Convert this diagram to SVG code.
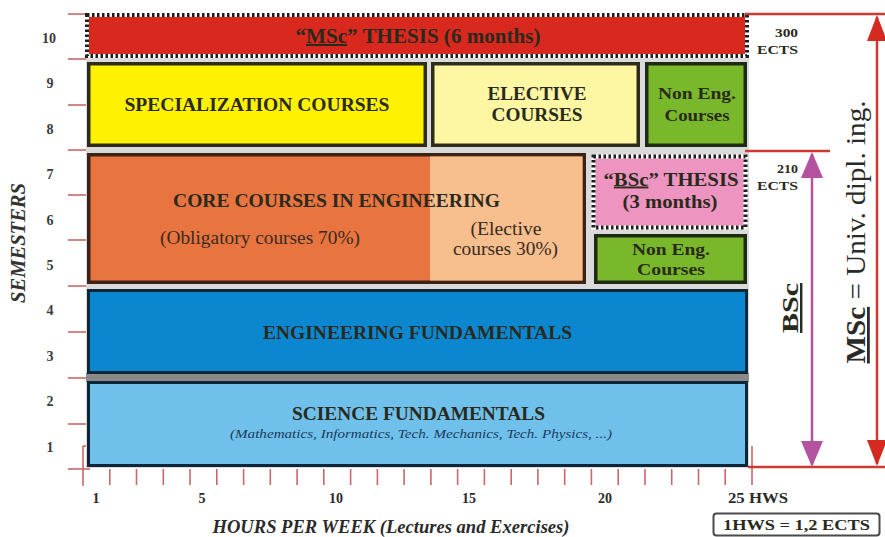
<svg xmlns="http://www.w3.org/2000/svg" width="885" height="537" viewBox="0 0 885 537">
<style>
  text { font-family: "Liberation Serif", "Times New Roman", serif; }
  .b { font-weight: bold; fill: #2a2a1c; }
  .r { font-weight: normal; fill: #3a2a1e; }
  .big { font-size: 19px; }
  .sem { font-size: 14px; fill: #3a3a3a; font-weight: bold; text-anchor: middle; }
  .hx { font-size: 14px; fill: #2a2a2a; font-weight: bold; }
  .mid { text-anchor: middle; }
  .tick { stroke: #c86868; stroke-width: 1.6; }
  .redl { stroke: #cc3a32; stroke-width: 2.5; fill: none; }
  .dot-under { fill: none; stroke: #ffffff; stroke-width: 4; }
  .dot { fill: none; stroke: #1e1e1e; stroke-width: 4; stroke-dasharray: 2.5 2.5; }
  .box { stroke-width: 3.5; }
</style>
<defs>
  <marker id="ahRed" viewBox="0 0 26 20" refX="24" refY="10" markerWidth="26" markerHeight="20" markerUnits="userSpaceOnUse" orient="auto-start-reverse">
    <path d="M0,0 L26,10 L0,20 z" fill="#d42a20"/>
  </marker>
  <marker id="ahMag" viewBox="0 0 26 22" refX="24" refY="11" markerWidth="26" markerHeight="22" markerUnits="userSpaceOnUse" orient="auto-start-reverse">
    <path d="M0,0 L26,11 L0,22 z" fill="#b5529f"/>
  </marker>
</defs>

<rect width="885" height="537" fill="#ffffff"/>

<!-- axes -->
<g id="axes">
  <line class="tick" x1="68" y1="14" x2="97" y2="14"/>
  <line class="tick" x1="68" y1="59" x2="88" y2="59"/>
  <line class="tick" x1="68" y1="105" x2="88" y2="105"/>
  <line class="tick" x1="68" y1="150" x2="92" y2="150"/>
  <line class="tick" x1="68" y1="195" x2="88" y2="195"/>
  <line class="tick" x1="68" y1="240" x2="88" y2="240"/>
  <line class="tick" x1="68" y1="286" x2="92" y2="286"/>
  <line class="tick" x1="68" y1="332" x2="88" y2="332"/>
  <line class="tick" x1="68" y1="378" x2="95" y2="378"/>
  <line class="tick" x1="68" y1="424" x2="88" y2="424"/>
  <line class="tick" x1="68" y1="469" x2="90" y2="469"/>
  <line class="tick" x1="83" y1="446" x2="83" y2="486"/>
  <line class="tick" x1="83" y1="446" x2="88" y2="446"/>
  <g class="xticks">
    <line class="tick" x1="109.8" y1="469" x2="109.8" y2="485"/>
    <line class="tick" x1="136.5" y1="469" x2="136.5" y2="485"/>
    <line class="tick" x1="163.3" y1="469" x2="163.3" y2="485"/>
    <line class="tick" x1="190" y1="469" x2="190" y2="485"/>
    <line class="tick" x1="216.8" y1="469" x2="216.8" y2="485"/>
    <line class="tick" x1="243.6" y1="469" x2="243.6" y2="485"/>
    <line class="tick" x1="270.3" y1="469" x2="270.3" y2="485"/>
    <line class="tick" x1="297.1" y1="469" x2="297.1" y2="485"/>
    <line class="tick" x1="323.8" y1="469" x2="323.8" y2="485"/>
    <line class="tick" x1="350.6" y1="469" x2="350.6" y2="485"/>
    <line class="tick" x1="377.4" y1="469" x2="377.4" y2="485"/>
    <line class="tick" x1="404.1" y1="469" x2="404.1" y2="485"/>
    <line class="tick" x1="430.9" y1="469" x2="430.9" y2="485"/>
    <line class="tick" x1="457.6" y1="469" x2="457.6" y2="485"/>
    <line class="tick" x1="484.4" y1="469" x2="484.4" y2="485"/>
    <line class="tick" x1="511.2" y1="469" x2="511.2" y2="485"/>
    <line class="tick" x1="537.9" y1="469" x2="537.9" y2="485"/>
    <line class="tick" x1="564.7" y1="469" x2="564.7" y2="485"/>
    <line class="tick" x1="591.4" y1="469" x2="591.4" y2="485"/>
    <line class="tick" x1="618.2" y1="469" x2="618.2" y2="485"/>
    <line class="tick" x1="645" y1="469" x2="645" y2="485"/>
    <line class="tick" x1="671.7" y1="469" x2="671.7" y2="485"/>
    <line class="tick" x1="698.5" y1="469" x2="698.5" y2="485"/>
    <line class="tick" x1="725.2" y1="469" x2="725.2" y2="485"/>
    <line class="tick" x1="752" y1="446" x2="752" y2="485"/>
  </g>
  <text class="sem" x="49" y="43">10</text>
  <text class="sem" x="50" y="88">9</text>
  <text class="sem" x="50" y="134">8</text>
  <text class="sem" x="50" y="179">7</text>
  <text class="sem" x="50" y="225">6</text>
  <text class="sem" x="50" y="270">5</text>
  <text class="sem" x="50" y="315">4</text>
  <text class="sem" x="50" y="361">3</text>
  <text class="sem" x="50" y="406">2</text>
  <text class="sem" x="50" y="452">1</text>
  <text class="hx mid" x="96" y="503">1</text>
  <text class="hx mid" x="202" y="503">5</text>
  <text class="hx mid" x="336" y="503">10</text>
  <text class="hx mid" x="469" y="503">15</text>
  <text class="hx mid" x="605" y="503">20</text>
  <text class="hx" x="728" y="503" textLength="60" lengthAdjust="spacingAndGlyphs">25 HWS</text>
  <text transform="translate(25,243) rotate(-90)" class="mid" font-size="20" font-weight="bold" font-style="italic" fill="#333" textLength="120" lengthAdjust="spacingAndGlyphs">SEMESTERS</text>
  <text x="391" y="533" class="mid" font-size="18.5" font-weight="bold" font-style="italic" fill="#2a2a2a" textLength="357" lengthAdjust="spacingAndGlyphs">HOURS PER WEEK (Lectures and Exercises)</text>
  <g id="hws-note">
    <rect x="713.5" y="513.5" width="166" height="22" rx="3" fill="#ffffff" stroke="#4a4a4a" stroke-width="2"/>
    <text x="796.5" y="530" class="b mid" font-size="15" textLength="147" lengthAdjust="spacingAndGlyphs">1HWS = 1,2 ECTS</text>
  </g>
</g>

<!-- gap background -->
<rect x="86" y="57" width="663" height="411" fill="#dadada"/>
<rect x="86" y="373" width="663" height="9" fill="#8a8a8a"/>

<g id="msc-thesis">
  <rect x="87" y="15" width="660" height="41" fill="#d9291f"/>
  <rect class="dot-under" x="87" y="15" width="660" height="41"/>
  <rect class="dot" x="87" y="15" width="660" height="41"/>
  <text x="418" y="43" class="b mid" font-size="20" fill="#3a1a12" textLength="245" lengthAdjust="spacingAndGlyphs">“<tspan text-decoration="underline">MSc</tspan>” THESIS (6 months)</text>
</g>

<g id="specialization">
  <rect class="box" x="88.75" y="63.75" width="336.5" height="81.5" fill="#fff200" stroke="#2e2c1c"/>
  <text x="257" y="110.5" class="b big mid" textLength="265" lengthAdjust="spacingAndGlyphs">SPECIALIZATION COURSES</text>
</g>

<g id="elective">
  <rect class="box" x="432.75" y="63.75" width="205.5" height="81.5" fill="#fdf6a2" stroke="#2e2c1c"/>
  <text x="537" y="100" class="b big mid" textLength="99" lengthAdjust="spacingAndGlyphs">ELECTIVE</text>
  <text x="537" y="120.5" class="b big mid" textLength="91" lengthAdjust="spacingAndGlyphs">COURSES</text>
</g>

<g id="non-eng-top">
  <rect class="box" x="646.75" y="63.75" width="98.5" height="81.5" fill="#78b82a" stroke="#1f2a14"/>
  <text x="697" y="98.5" class="b mid" font-size="17" fill="#1c2a10" textLength="78" lengthAdjust="spacingAndGlyphs">Non Eng.</text>
  <text x="697" y="121" class="b mid" font-size="17" fill="#1c2a10" textLength="65" lengthAdjust="spacingAndGlyphs">Courses</text>
</g>

<g id="core">
  <rect class="box" x="88.75" y="154.75" width="495.5" height="127.5" fill="#e8743f" stroke="#3a2216"/>
  <rect x="430" y="156.5" width="152.5" height="124" fill="#f6bf8d"/>
  <text x="336.5" y="207" class="b big mid" fill="#3a2216" textLength="327" lengthAdjust="spacingAndGlyphs">CORE COURSES IN ENGINEERING</text>
  <text x="260" y="244" class="r big mid" textLength="200" lengthAdjust="spacingAndGlyphs">(Obligatory courses 70%)</text>
  <text x="506" y="235" class="r big mid" textLength="71" lengthAdjust="spacingAndGlyphs">(Elective</text>
  <text x="505.5" y="255" class="r big mid" textLength="105" lengthAdjust="spacingAndGlyphs">courses 30%)</text>
</g>

<g id="bsc-thesis">
  <rect x="593.5" y="156.5" width="152" height="71" fill="#ee94c0"/>
  <rect class="dot-under" x="593.5" y="156.5" width="152" height="71"/>
  <rect class="dot" x="593.5" y="156.5" width="152" height="71"/>
  <text x="671" y="185.5" class="b big mid" fill="#3a1a2a" textLength="135" lengthAdjust="spacingAndGlyphs">“<tspan text-decoration="underline">BSc</tspan>” THESIS</text>
  <text x="670" y="208" class="b big mid" fill="#3a1a2a" textLength="95" lengthAdjust="spacingAndGlyphs">(3 months)</text>
</g>

<g id="non-eng-bottom">
  <rect class="box" x="595.75" y="235.75" width="149.5" height="46.5" fill="#78b82a" stroke="#1f2a14"/>
  <text x="671" y="255" class="b mid" font-size="16" fill="#1c2a10" textLength="78" lengthAdjust="spacingAndGlyphs">Non Eng.</text>
  <text x="671" y="275" class="b mid" font-size="16" fill="#1c2a10" textLength="68" lengthAdjust="spacingAndGlyphs">Courses</text>
</g>

<g id="eng-fundamentals">
  <rect x="88.5" y="290.5" width="658" height="82" fill="#0b87d0" stroke="#0d2638" stroke-width="3"/>
  <text x="417.5" y="339" class="b big mid" fill="#13263a" textLength="309" lengthAdjust="spacingAndGlyphs">ENGINEERING FUNDAMENTALS</text>
</g>

<g id="sci-fundamentals">
  <rect x="88.5" y="382.5" width="658" height="83" fill="#6fc1ec" stroke="#0d2638" stroke-width="3"/>
  <text x="418.5" y="420" class="b big mid" fill="#13263a" textLength="253" lengthAdjust="spacingAndGlyphs">SCIENCE FUNDAMENTALS</text>
  <text x="421" y="437.5" class="mid" font-size="12" font-style="italic" fill="#1c3a5a" textLength="382" lengthAdjust="spacingAndGlyphs">(Mathematics, Informatics, Tech. Mechanics, Tech. Physics, ...)</text>
</g>

<g id="connectors">
  <line class="redl" x1="745" y1="14" x2="885" y2="14"/>
  <line class="redl" x1="745" y1="151" x2="830" y2="151"/>
  <line class="redl" x1="748" y1="467" x2="885" y2="467"/>
  <line class="redl" x1="877" y1="17" x2="877" y2="464" marker-start="url(#ahRed)" marker-end="url(#ahRed)"/>
  <line x1="812" y1="154" x2="812" y2="465" stroke="#b5529f" stroke-width="2.5" marker-start="url(#ahMag)" marker-end="url(#ahMag)"/>
</g>

<g id="ects-labels">
  <text x="798" y="37" class="b" font-size="13" text-anchor="end" textLength="23" lengthAdjust="spacingAndGlyphs">300</text>
  <text x="798" y="54" class="b" font-size="13" text-anchor="end" textLength="41" lengthAdjust="spacingAndGlyphs">ECTS</text>
  <text x="798" y="173" class="b" font-size="13" text-anchor="end" textLength="21" lengthAdjust="spacingAndGlyphs">210</text>
  <text x="798" y="190" class="b" font-size="13" text-anchor="end" textLength="41" lengthAdjust="spacingAndGlyphs">ECTS</text>
</g>

<g id="bsc-label">
  <text transform="translate(798,308) rotate(-90)" class="b mid" font-size="24" textLength="50" lengthAdjust="spacingAndGlyphs" text-decoration="underline">BSc</text>
</g>

<g id="msc-label">
  <text transform="translate(865,232) rotate(-90)" class="mid" font-size="28" fill="#2a2a2a" textLength="263" lengthAdjust="spacingAndGlyphs"><tspan font-weight="bold" text-decoration="underline">MSc</tspan> = Univ. dipl. ing.</text>
</g>
</svg>
